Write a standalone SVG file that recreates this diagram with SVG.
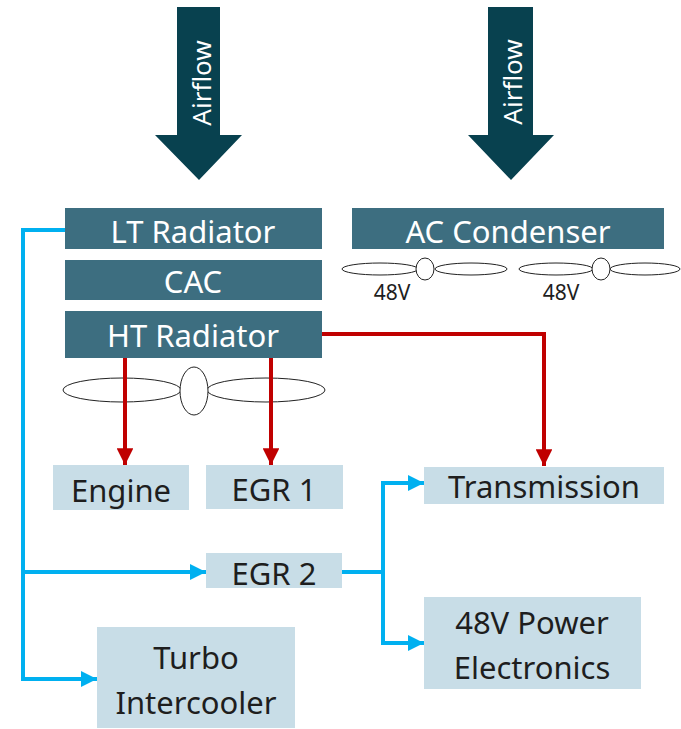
<svg xmlns="http://www.w3.org/2000/svg" width="681" height="729" viewBox="0 0 681 729">
<defs>
<style>
.dark{fill:#3d6e80}
.light{fill:#c8dde7}
.wt{fill:#ffffff;font-family:"Noto Sans","DejaVu Sans",sans-serif;font-size:31px;text-anchor:middle}
.bt{fill:#1e1e1e;font-family:"Noto Sans","DejaVu Sans",sans-serif;font-size:31px;text-anchor:middle}
.af{fill:#ffffff;font-family:"Noto Sans","DejaVu Sans",sans-serif;font-size:26px;text-anchor:middle}
.sm{fill:#1e1e1e;font-family:"Noto Sans","DejaVu Sans",sans-serif;font-size:21px;text-anchor:middle}
.fan{fill:#ffffff;stroke:#222;stroke-width:1}
.red{fill:none;stroke:#c00000;stroke-width:4}
.blue{fill:none;stroke:#00b0f0;stroke-width:4}
</style>
<marker id="ar" viewBox="0 0 10 10" refX="10" refY="5" markerWidth="4.2" markerHeight="4.2" markerUnits="strokeWidth" orient="auto"><path d="M0,0L10,5L0,10z" fill="#c00000"/></marker>
<marker id="ab" viewBox="0 0 10 10" refX="10" refY="5" markerWidth="4" markerHeight="4" markerUnits="strokeWidth" orient="auto"><path d="M0,0L10,5L0,10z" fill="#00b0f0"/></marker>
</defs>
<g id="airflow-left">
<path d="M177,7H220V135H242L199,180L155,135H177Z" fill="#08414f"/>
<text class="af" transform="translate(211,83) rotate(-90)">Airflow</text>
</g>
<g id="airflow-right">
<path d="M488,7H533V135H554L511,180L468,135H488Z" fill="#08414f"/>
<text class="af" transform="translate(522,82) rotate(-90)">Airflow</text>
</g>
<g id="lt-radiator"><rect class="dark" x="65" y="208" width="257" height="41"/><text class="wt" x="193" y="243">LT Radiator</text></g>
<g id="cac"><rect class="dark" x="65" y="260" width="257" height="40"/><text class="wt" x="193" y="293">CAC</text></g>
<g id="ht-radiator"><rect class="dark" x="65" y="311" width="257" height="47"/><text class="wt" x="193" y="347">HT Radiator</text></g>
<g id="ac-condenser"><rect class="dark" x="352" y="208" width="312" height="41"/><text class="wt" x="508" y="243">AC Condenser</text></g>
<g id="fan-main">
<ellipse class="fan" cx="122" cy="390" rx="59" ry="12"/>
<ellipse class="fan" cx="266" cy="390" rx="59" ry="12"/>
<ellipse class="fan" cx="194" cy="391" rx="14" ry="24"/>
</g>
<g id="fan-48v-1">
<ellipse class="fan" cx="380" cy="269" rx="38" ry="6"/>
<ellipse class="fan" cx="471" cy="269" rx="36" ry="6"/>
<ellipse class="fan" cx="425" cy="269" rx="9" ry="11"/>
<text class="sm" x="392" y="300">48V</text>
</g>
<g id="fan-48v-2">
<ellipse class="fan" cx="556" cy="269" rx="37" ry="6"/>
<ellipse class="fan" cx="645" cy="269" rx="35" ry="6"/>
<ellipse class="fan" cx="601" cy="269" rx="9" ry="11"/>
<text class="sm" x="561" y="300">48V</text>
</g>
<g id="engine"><rect class="light" x="53" y="465" width="136" height="45"/><text class="bt" x="121" y="502">Engine</text></g>
<g id="egr1"><rect class="light" x="206" y="465" width="137" height="44"/><text class="bt" x="274" y="501">EGR 1</text></g>
<g id="egr2"><rect class="light" x="206" y="553" width="136" height="35"/><text class="bt" x="274" y="585">EGR 2</text></g>
<g id="turbo-intercooler"><rect class="light" x="97" y="627" width="198" height="101"/><text class="bt" x="196" y="669">Turbo</text><text class="bt" x="196" y="714">Intercooler</text></g>
<g id="transmission"><rect class="light" x="424" y="467" width="240" height="37"/><text class="bt" x="544" y="498">Transmission</text></g>
<g id="power-electronics"><rect class="light" x="424" y="597" width="217" height="92"/><text class="bt" x="532" y="634">48V Power</text><text class="bt" x="532" y="679">Electronics</text></g>
<g id="connectors">
<path class="red" d="M125,358V465" marker-end="url(#ar)"/>
<path class="red" d="M271,358V465" marker-end="url(#ar)"/>
<path class="red" d="M322,334H544V466" marker-end="url(#ar)"/>
<path class="blue" d="M65,230H23V679H97" marker-end="url(#ab)"/>
<path class="blue" d="M23,572H206" marker-end="url(#ab)"/>
<path class="blue" d="M342,572H383"/>
<path class="blue" d="M424,483H383V643H424" marker-end="url(#ab)"/>
<path class="blue" d="M383,483H424" marker-end="url(#ab)"/>
</g>
</svg>
